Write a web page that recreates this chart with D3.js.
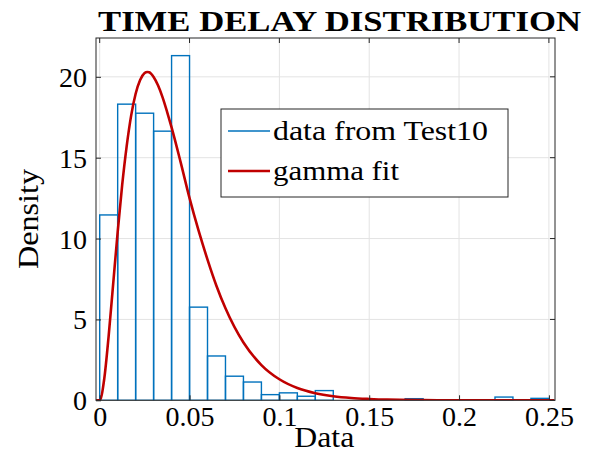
<!DOCTYPE html>
<html>
<head>
<meta charset="utf-8">
<script src="https://cdn.jsdelivr.net/npm/d3@7"></script>
<style>
  body { margin: 0; background: #fff; }
  svg { display: block; }
  text { font-family: "Liberation Serif", "Times New Roman", serif; fill: #000; }
</style>
</head>
<body>
<svg id="chart"></svg>
<script>
// histogram bins (width 0.01, starting at 0) and normalised heights
const binStart = [0, 0.01, 0.02, 0.03, 0.04, 0.05, 0.06, 0.07, 0.08, 0.09, 0.10, 0.11, 0.12,
  0.13, 0.14, 0.15, 0.16, 0.17, 0.18, 0.19, 0.20, 0.21, 0.22, 0.23, 0.24];
const density = [11.46, 18.31, 17.75, 16.64, 21.31, 5.76, 2.74, 1.49, 1.13, 0.35, 0.46, 0.25, 0.60,
  0, 0, 0, 0, 0.10, 0, 0, 0, 0, 0.20, 0, 0.12];
const binWidth = 0.01;

// gamma fit curve
const fitX = [-0.002, 0, 0.0025, 0.005, 0.0075, 0.01, 0.0125, 0.015, 0.0175, 0.02, 0.0225, 0.025,
  0.0265, 0.0275, 0.03, 0.0325, 0.035, 0.0375, 0.04, 0.045, 0.05, 0.055, 0.06, 0.065, 0.07,
  0.08, 0.09, 0.10, 0.11, 0.12, 0.13, 0.14, 0.15, 0.16, 0.18, 0.20, 0.253];
const fitY = [0, 0, 1.3, 4.0, 7.2, 10.4, 13.3, 15.7, 17.6, 18.95, 19.8, 20.23,
  20.3, 20.28, 19.99, 19.46, 18.73, 17.84, 16.87, 14.74, 12.5, 10.5, 8.7, 7.07, 5.69,
  3.57, 2.18, 1.30, 0.76, 0.44, 0.25, 0.14, 0.08, 0.04, 0.012, 0.003, 0];

const xTicks = [0, 0.05, 0.1, 0.15, 0.2, 0.25];
const yTicks = [0, 5, 10, 15, 20];
const legendLabels = ["data from Test10", "gamma fit"];

const W = 590, H = 453;
const margin = { top: 38, right: 35, bottom: 52.7, left: 96 },
  width = W - margin.left - margin.right,
  height = H - margin.top - margin.bottom;

const blue = "#0072BD", red = "#C00000";

const x = d3.scaleLinear().domain([-0.00206, 0.2534]).range([0, width]);
const y = d3.scaleLinear().domain([0, 22.4]).range([height, 0]);

const svg = d3.select("#chart").attr("width", W).attr("height", H);

svg.append("defs").append("clipPath").attr("id", "clip")
  .append("rect").attr("width", width).attr("height", height);

const g = svg.append("g")
  .attr("transform", "translate(" + margin.left + "," + margin.top + ")");

// grid
g.append("g").selectAll("line").data(xTicks).enter().append("line")
  .attr("x1", d => x(d)).attr("x2", d => x(d))
  .attr("y1", 0).attr("y2", height)
  .attr("stroke", "#e3e3e3").attr("stroke-width", 1);
g.append("g").selectAll("line").data(yTicks).enter().append("line")
  .attr("x1", 0).attr("x2", width)
  .attr("y1", d => y(d)).attr("y2", d => y(d))
  .attr("stroke", "#e3e3e3").attr("stroke-width", 1);

// bars
const plot = g.append("g").attr("clip-path", "url(#clip)");
plot.selectAll("rect").data(binStart).enter().append("rect")
  .attr("x", d => x(d))
  .attr("y", (d, i) => y(density[i]))
  .attr("width", d => x(d + binWidth) - x(d))
  .attr("height", (d, i) => y(0) - y(density[i]))
  .attr("fill", "none")
  .attr("stroke", blue)
  .attr("stroke-width", 1.4);

// gamma fit
const line = d3.line().x((d, i) => x(fitX[i])).y(d => y(d)).curve(d3.curveMonotoneX);
plot.append("path").datum(fitY)
  .attr("d", line)
  .attr("fill", "none")
  .attr("stroke", red)
  .attr("stroke-width", 2.6)
  .attr("stroke-linejoin", "round");

// axes (ticks inside, box)
const xAxis = d3.axisBottom(x).tickValues(xTicks).tickSizeInner(-5).tickSizeOuter(0)
  .tickFormat(d => String(+d.toFixed(2)));
const yAxis = d3.axisLeft(y).tickValues(yTicks).tickSizeInner(-5).tickSizeOuter(0);

const gx = g.append("g").attr("transform", "translate(0," + height + ")").call(xAxis);
const gy = g.append("g").call(yAxis);
[gx, gy].forEach(a => {
  a.select(".domain").remove();
  a.selectAll(".tick line").attr("stroke", "#262626");
  a.selectAll(".tick text").attr("font-family", "Liberation Serif").attr("font-size", 28).attr("fill", "#000");
});
gx.selectAll(".tick text").attr("dy", null).attr("y", 26);
gy.selectAll(".tick text").attr("x", -9).attr("dy", "0.34em");

// top/right ticks
g.append("g").selectAll("line").data(xTicks).enter().append("line")
  .attr("x1", d => x(d)).attr("x2", d => x(d)).attr("y1", 0).attr("y2", 5)
  .attr("stroke", "#262626");
g.append("g").selectAll("line").data(yTicks).enter().append("line")
  .attr("x1", width).attr("x2", width - 5).attr("y1", d => y(d)).attr("y2", d => y(d))
  .attr("stroke", "#262626");

g.append("rect").attr("width", width).attr("height", height)
  .attr("fill", "none").attr("stroke", "#262626").attr("stroke-width", 1);

// labels
g.append("text").attr("x", x(0.125)).attr("y", height + 47)
  .attr("text-anchor", "middle").attr("font-size", 29)
  .attr("textLength", 60).attr("lengthAdjust", "spacingAndGlyphs").text("Data");
svg.append("text")
  .attr("transform", "translate(38,219) rotate(-90)")
  .attr("text-anchor", "middle").attr("font-size", 29)
  .attr("textLength", 100).attr("lengthAdjust", "spacingAndGlyphs").text("Density");
svg.append("text").attr("x", 98).attr("y", 31)
  .attr("font-size", 29).attr("font-weight", "bold")
  .attr("textLength", 483).attr("lengthAdjust", "spacingAndGlyphs")
  .text("TIME DELAY DISTRIBUTION");

// legend
const legendWidths = [215, 126];
const leg = svg.append("g").attr("transform", "translate(221,109)");
leg.append("rect").attr("width", 287).attr("height", 88)
  .attr("fill", "#fff").attr("stroke", "#262626").attr("stroke-width", 1);
const rows = leg.selectAll("g.row").data(legendLabels).enter().append("g")
  .attr("transform", (d, i) => "translate(0," + (22 + i * 40) + ")");
rows.append("line").attr("x1", 7).attr("x2", 49).attr("y1", 0).attr("y2", 0)
  .attr("stroke", (d, i) => i ? red : blue)
  .attr("stroke-width", (d, i) => i ? 2.6 : 1.4);
rows.append("text").attr("x", 52).attr("dy", "0.33em").attr("font-size", 28)
  .attr("textLength", (d, i) => legendWidths[i]).attr("lengthAdjust", "spacingAndGlyphs")
  .text(d => d);
</script>
</body>
</html>
